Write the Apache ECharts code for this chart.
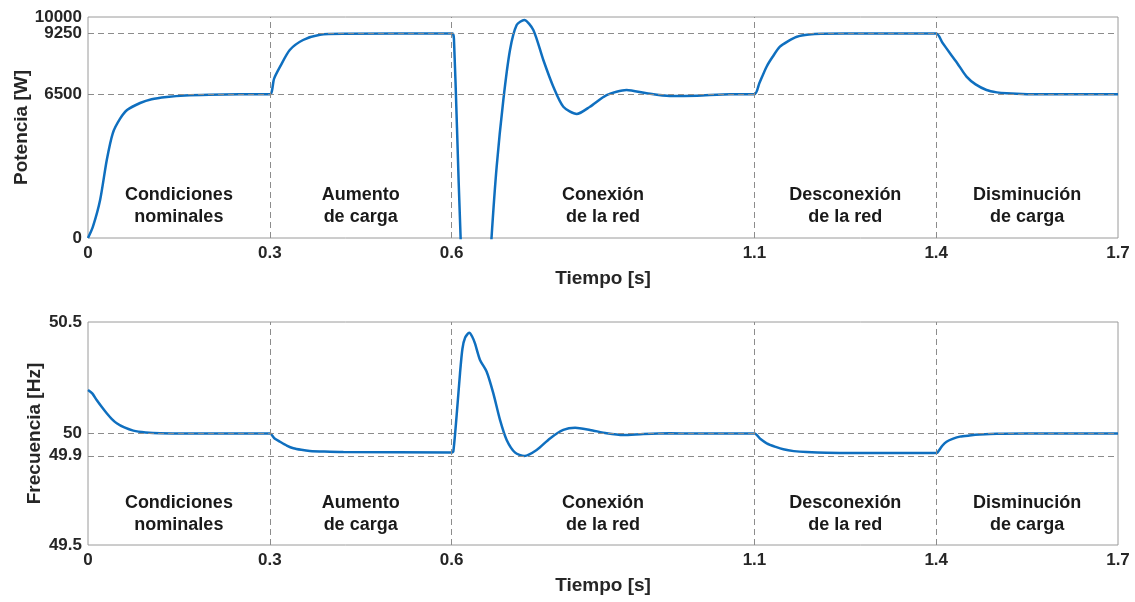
<!DOCTYPE html>
<html style="height: 100%">
<head>
  <meta charset="utf-8">
  <title>Potencia y frecuencia</title>
</head>
<body style="height: 100%; margin: 0; background: #fff">
<div id="container" style="width: 1135px; height: 602px"></div>

<script src="https://cdn.jsdelivr.net/npm/echarts@6/dist/echarts.min.js"></script>
<script type="text/javascript">
  // time ticks and the event boundaries
  var timeTicks = [0, 0.3, 0.6, 1.1, 1.4, 1.7];
  var boundaries = [0.3, 0.6, 1.1, 1.4];

  // power subplot (10000 sits on its own axis so it is not dropped as an overlap)
  var powerTicks = [0, 6500, 9250];
  var powerTopTick = [10000];
  var powerRefs = [6500, 9250];
  var timeP = [0, 0.008, 0.02, 0.031, 0.041, 0.053, 0.065, 0.086, 0.105, 0.13, 0.16, 0.2, 0.25, 0.3,
    0.307, 0.317, 0.333, 0.355, 0.383, 0.42, 0.6,
    0.602, 0.604, 0.609, 0.615, 0.625, 0.64, 0.655, 0.666, 0.6745, 0.6855, 0.6965, 0.7075, 0.72,
    0.735, 0.7515, 0.768, 0.7845, 0.8066, 0.8285, 0.856, 0.889, 0.922, 0.96, 1.005, 1.06, 1.1,
    1.108, 1.12, 1.13, 1.142, 1.155, 1.17, 1.19, 1.21, 1.25, 1.4,
    1.41, 1.4227, 1.435, 1.45, 1.465, 1.483, 1.5, 1.516, 1.55, 1.6, 1.7];
  var powerW = [0, 500, 1720, 3530, 4750, 5400, 5800, 6108, 6280, 6380, 6450, 6485, 6500, 6500,
    7200, 7751, 8507, 8959, 9200, 9245, 9250,
    9250, 9000, 5000, 0, -5000, -8000, -5000, 0, 3226, 6244, 8507, 9638, 9864,
    9412, 8054, 6846, 5941, 5611, 5941, 6470, 6697, 6546, 6425, 6440, 6500, 6500,
    7000, 7751, 8200, 8656, 8900, 9109, 9210, 9245, 9250, 9250,
    8850, 8357, 7900, 7300, 6950, 6697, 6590, 6546, 6510, 6500, 6500];

  // frequency subplot
  var freqTicks = [49.5, 49.9, 50, 50.5];
  var freqRefs = [50, 49.9];
  var timeF = [0, 0.007, 0.0143, 0.0225, 0.0309, 0.039, 0.0474, 0.06, 0.0748, 0.095, 0.119, 0.2, 0.3,
    0.308, 0.317, 0.328, 0.339, 0.352, 0.366, 0.39, 0.4215, 0.6,
    0.603, 0.609, 0.614, 0.618, 0.6225, 0.6293, 0.634, 0.6387, 0.647, 0.658, 0.669, 0.68, 0.691,
    0.705, 0.72, 0.7405, 0.7625, 0.7845, 0.804, 0.8285, 0.856, 0.8835, 0.9165, 0.9605, 1.0, 1.1,
    1.11, 1.1202, 1.135, 1.1476, 1.165, 1.186, 1.241, 1.4,
    1.4018, 1.41, 1.417, 1.428, 1.439, 1.455, 1.472, 1.5, 1.55, 1.7];
  var freqHz = [50.195, 50.18, 50.15, 50.12, 50.091, 50.066, 50.046, 50.027, 50.013, 50.005, 50.001, 50, 50,
    49.978, 49.963, 49.946, 49.934, 49.927, 49.922, 49.919, 49.917, 49.915,
    49.92, 50.1, 50.27, 50.38, 50.43, 50.452, 50.435, 50.404, 50.33, 50.277, 50.18, 50.061, 49.971,
    49.914, 49.899, 49.926, 49.978, 50.016, 50.026, 50.016, 50.001, 49.993, 49.998, 50.001, 50, 50,
    49.975, 49.956, 49.94, 49.929, 49.921, 49.917, 49.913, 49.913,
    49.914, 49.945, 49.963, 49.977, 49.986, 49.991, 49.995, 49.999, 50, 50];

  // stage annotations
  var stageX = [0.15, 0.45, 0.85, 1.25, 1.55];
  var stageText = ['Condiciones\nnominales', 'Aumento\nde carga', 'Conexión\nde la red',
    'Desconexión\nde la red', 'Disminución\nde carga'];
  var stageYPower = 1448;
  var stageYFreq = 49.639;

  function zip(xs, ys) {
    return xs.map(function (x, i) { return [x, ys[i]]; });
  }

  var dom = document.getElementById('container');
  var myChart = echarts.init(dom, null, { renderer: 'canvas' });

  var font = 'Liberation Sans, Arial, sans-serif';
  var tickStyle = { color: '#262626', fontWeight: 'bold', fontSize: 17, fontFamily: font };
  var nameStyle = { color: '#262626', fontWeight: 'bold', fontSize: 19, fontFamily: font };
  var dashed = { color: '#8c8c8c', type: [6, 4], width: 1 };

  function plainNumber(v) { return String(v); }

  function xAxisDef(gridIndex) {
    return {
      type: 'value', gridIndex: gridIndex, min: 0, max: 1.7,
      name: 'Tiempo [s]', nameLocation: 'middle', nameGap: 31, nameTextStyle: nameStyle,
      nameMoveOverlap: false,
      axisLine: { show: false },
      axisTick: { show: false },
      splitLine: { show: false },
      axisLabel: Object.assign({ customValues: timeTicks, margin: 7, formatter: plainNumber,
        showMinLabel: true, showMaxLabel: true, hideOverlap: false }, tickStyle)
    };
  }

  function yAxisDef(gridIndex, name, min, max, ticks, gap) {
    return {
      type: 'value', gridIndex: gridIndex, min: min, max: max, position: 'left', offset: 0,
      name: name, nameLocation: 'middle', nameGap: gap, nameTextStyle: nameStyle,
      nameMoveOverlap: false,
      axisLine: { show: false }, axisTick: { show: false }, splitLine: { show: false },
      axisLabel: Object.assign({ customValues: ticks, margin: 6, formatter: plainNumber,
        showMinLabel: true, showMaxLabel: true, hideOverlap: false }, tickStyle)
    };
  }

  function refLines(vals, key) {
    return vals.map(function (v) { var o = {}; o[key] = v; return o; });
  }

  function guideSeries(idx, yRefs) {
    return {
      type: 'line', xAxisIndex: idx, yAxisIndex: idx, data: [], z: 1, silent: true,
      markLine: {
        silent: true, symbol: ['none', 'none'], label: { show: false },
        lineStyle: dashed, animation: false,
        data: refLines(boundaries, 'xAxis').concat(refLines(yRefs, 'yAxis'))
      }
    };
  }

  function stageSeries(idx, y) {
    return {
      type: 'scatter', xAxisIndex: idx, yAxisIndex: idx, symbolSize: 1, z: 4, silent: true,
      itemStyle: { color: 'rgba(255,255,255,0)', opacity: 1 },
      emphasis: { disabled: true },
      data: stageX.map(function (x, i) { return { value: [x, y], name: stageText[i] }; }),
      label: {
        show: true, position: 'inside', lineHeight: 22, align: 'center', verticalAlign: 'middle',
        color: '#1a1a1a', fontWeight: 'bold', fontSize: 18, fontFamily: font,
        textBorderWidth: 0,
        formatter: function (p) { return p.name; }
      }
    };
  }

  var topLabelAxis = yAxisDef(0, '', 0, 10000, powerTopTick, 0);
  topLabelAxis.name = null;

  var option = {
    animation: false,
    grid: [
      { left: 88, right: 17, top: 17, height: 221, show: true, borderColor: '#9a9a9a', borderWidth: 1,
        containLabel: false, outerBoundsMode: 'none' },
      { left: 88, right: 17, top: 322, height: 223, show: true, borderColor: '#9a9a9a', borderWidth: 1,
        containLabel: false, outerBoundsMode: 'none' }
    ],
    xAxis: [xAxisDef(0), xAxisDef(1)],
    yAxis: [
      yAxisDef(0, 'Potencia [W]', 0, 10000, powerTicks, 57),
      yAxisDef(1, 'Frecuencia [Hz]', 49.5, 50.5, freqTicks, 44),
      topLabelAxis
    ],
    series: [
      guideSeries(0, powerRefs),
      guideSeries(1, freqRefs),
      {
        type: 'line', xAxisIndex: 0, yAxisIndex: 0, z: 3, clip: true,
        data: zip(timeP, powerW), showSymbol: false, smooth: 0.25,
        lineStyle: { color: '#0f6fbf', width: 2.5 }
      },
      {
        type: 'line', xAxisIndex: 1, yAxisIndex: 1, z: 3, clip: true,
        data: zip(timeF, freqHz), showSymbol: false, smooth: 0.25,
        lineStyle: { color: '#0f6fbf', width: 2.5 }
      },
      stageSeries(0, stageYPower),
      stageSeries(1, stageYFreq)
    ]
  };

  myChart.setOption(option);
</script>
</body>
</html>
